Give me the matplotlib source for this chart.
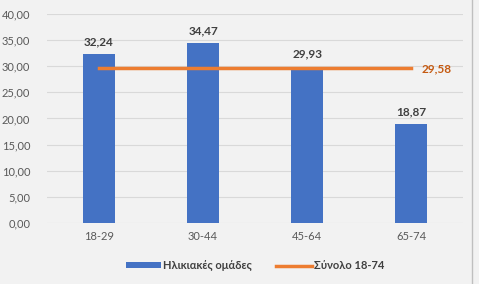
import numpy as np
import matplotlib
matplotlib.use('Agg')
import matplotlib.pyplot as plt

plt.rcParams['font.family'] = ['Lato', 'DejaVu Sans']

groups = ['18-29', '30-44', '45-64', '65-74']
values = [32.24, 34.47, 29.93, 18.87]
total = 29.58
bar_label = 'Ηλικιακές ομάδες'
line_label = 'Σύνολο 18-74'

bg = '#f2f2f2'
fig = plt.figure(figsize=(4.79, 2.84), dpi=100, facecolor=bg)
ax = fig.add_axes([0.098, 0.215, 0.869, 0.736], facecolor=bg)

x = np.arange(len(groups))
bars = ax.bar(x, values, width=0.31, color='#4472C4', label=bar_label, zorder=2)
line, = ax.plot([x[0], x[-1]], [total, total], color='#ED7D31', lw=2.5,
                label=line_label, zorder=3)

for xi, v in zip(x, values):
    ax.text(xi, v + 1.3, f'{v:.2f}'.replace('.', ','), ha='center', va='bottom',
            fontsize=8.5, fontweight='bold', color='#404040')
ax.text(x[-1] + 0.1, total, f'{total:.2f}'.replace('.', ','), ha='left',
        va='center', fontsize=8.5, fontweight='bold', color='#C55A11')

ax.set_xlim(-0.5, 3.5)
ax.set_ylim(0, 40)
ax.set_yticks(np.arange(0, 41, 5))
ax.set_yticklabels([f'{t:.2f}'.replace('.', ',') for t in np.arange(0, 41, 5)])
ax.set_xticks(x)
ax.set_xticklabels(groups)
ax.tick_params(length=0, labelsize=8, labelcolor='#595959', pad=6)
ax.tick_params(axis='y', pad=12)
ax.grid(axis='y', color='#d9d9d9', lw=0.8, zorder=0)
for s in ax.spines.values():
    s.set_visible(False)

leg = ax.legend([bars, line], [bar_label, line_label], loc='upper center',
                bbox_to_anchor=(0.5, -0.13), ncol=2, frameon=False,
                fontsize=8, handlelength=3.2, handleheight=0.5,
                handletextpad=0.2, columnspacing=2.2)
for t in leg.get_texts():
    t.set_color('#404040')
    t.set_fontweight('bold')

fig.add_artist(plt.Line2D([472 / 479, 472 / 479], [0, 1], color='#bfbfbf', lw=1))

fig.savefig('out.png', dpi=100, facecolor=bg)
